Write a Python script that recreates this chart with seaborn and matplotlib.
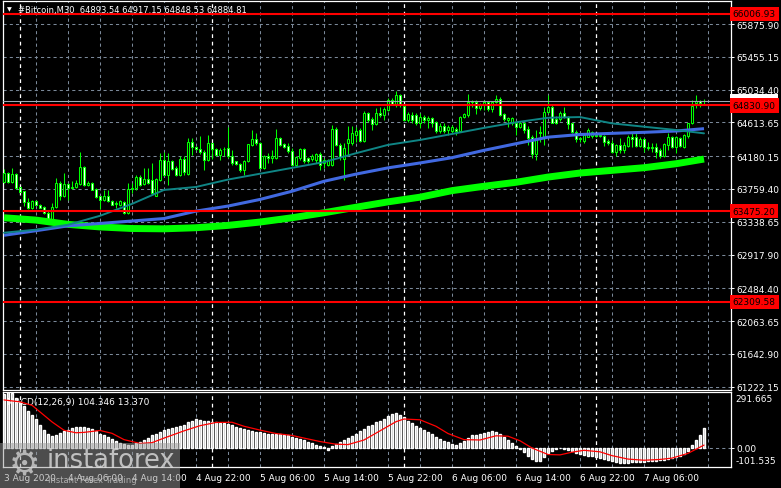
import numpy as np
import pandas as pd
import matplotlib
matplotlib.use('Agg')
import matplotlib.pyplot as plt
import matplotlib.transforms as mtransforms
from matplotlib.patches import Rectangle
import seaborn as sns

# ---- data (#Bitcoin M30, bar 0 = 4 Aug 00:00) ----
first_bar = -4
bar_open = [
    63853, 63963, 63853, 63951, 63781, 63730, 63594, 63517,
    63611, 63560, 63530, 63453, 63360, 63530, 63836, 63666,
    63823, 63768, 63785, 63827, 64040, 63815, 63836, 63759,
    63666, 63615, 63666, 63611, 63572, 63555, 63589, 63453,
    63759, 63768, 63908, 63823, 63887, 63870, 63674, 63878,
    64125, 63942, 64112, 64027, 63942, 64150, 63955, 64367,
    64303, 64274, 64240, 64125, 64346, 64269, 64197, 64269,
    64282, 64176, 64112, 64078, 63997, 64112, 64325, 64397,
    64354, 64027, 64184, 64155, 64155, 64418, 64333, 64312,
    64252, 64070, 64159, 64274, 64155, 64142, 64133, 64210,
    64091, 64065, 64070, 64524, 64325, 64142, 64354, 64354,
    64452, 64516, 64380, 64737, 64652, 64592, 64737, 64707,
    64771, 64898, 64847, 64962, 64822, 64643, 64707, 64707,
    64609, 64686, 64643, 64665, 64622, 64503, 64567, 64516,
    64507, 64524, 64507, 64677, 64707, 64877, 64877, 64792,
    64835, 64877, 64779, 64877, 64920, 64716, 64643, 64609,
    64609, 64558, 64609, 64524, 64431, 64210, 64490, 64410,
    64750, 64805, 64652, 64652, 64737, 64686, 64601, 64495,
    64397, 64380, 64431, 64440, 64452, 64440, 64444, 64380,
    64354, 64240, 64325, 64261, 64312, 64431, 64431, 64312,
    64397, 64303, 64282, 64295, 64261, 64176, 64325, 64422,
    64303, 64418, 64303, 64440, 64601, 64864, 64890, 64893.54,
]
bar_high = [
    64014, 63980, 64027, 63960, 63790, 63735, 63645, 63623,
    63620, 63565, 63538, 63475, 63581, 63900, 63857, 63963,
    63836, 63857, 63870, 64240, 64048, 63857, 63844, 63772,
    63674, 63742, 63742, 63623, 63602, 63615, 63602, 63836,
    63836, 63942, 63942, 64027, 64027, 64091, 63900, 64218,
    64240, 64218, 64133, 64048, 64180, 64184, 64410, 64410,
    64312, 64439, 64261, 64452, 64354, 64282, 64282, 64295,
    64558, 64261, 64121, 64091, 64133, 64337, 64516, 64473,
    64367, 64197, 64218, 64261, 64529, 64430, 64354, 64346,
    64282, 64176, 64282, 64282, 64167, 64210, 64227, 64240,
    64155, 64142, 64580, 64550, 64346, 64346, 64567, 64567,
    64558, 64537, 64762, 64750, 64686, 64792, 64813, 64805,
    64932, 64932, 65017, 64983, 64847, 64750, 64750, 64728,
    64728, 64707, 64694, 64686, 64635, 64601, 64601, 64580,
    64580, 64558, 64699, 64737, 64983, 64907, 64898, 64856,
    64898, 64890, 64890, 64962, 64941, 64728, 64686, 64686,
    64635, 64635, 64622, 64567, 64452, 64516, 64567, 64813,
    64962, 64847, 64699, 64762, 64813, 64694, 64609, 64516,
    64431, 64473, 64537, 64507, 64470, 64465, 64452, 64397,
    64388, 64337, 64410, 64367, 64452, 64473, 64482, 64431,
    64410, 64367, 64346, 64346, 64282, 64346, 64473, 64439,
    64439, 64431, 64465, 64609, 64898, 64962, 64898, 64917.15,
]
bar_low = [
    63836, 63840, 63836, 63765, 63720, 63538, 63496, 63496,
    63550, 63510, 63432, 63347, 63347, 63517, 63623, 63657,
    63623, 63759, 63772, 63815, 63793, 63793, 63742, 63645,
    63504, 63602, 63589, 63551, 63517, 63547, 63432, 63432,
    63708, 63751, 63802, 63815, 63827, 63687, 63666, 63857,
    63921, 63808, 64006, 63921, 63930, 63942, 63942, 64197,
    64261, 64210, 64006, 64112, 64142, 64176, 64133, 64176,
    64155, 64070, 64065, 63972, 63942, 64099, 64312, 64325,
    64027, 64014, 64091, 64091, 64142, 64312, 64282, 64218,
    64048, 64048, 64133, 64091, 64091, 64121, 64091, 64006,
    64027, 64048, 64048, 64312, 64133, 63878, 64197, 64325,
    64367, 64367, 64367, 64622, 64516, 64580, 64686, 64643,
    64762, 64835, 64813, 64813, 64635, 64622, 64609, 64580,
    64537, 64601, 64537, 64558, 64482, 64473, 64473, 64452,
    64473, 64452, 64490, 64665, 64686, 64813, 64720, 64771,
    64771, 64762, 64750, 64856, 64694, 64635, 64558, 64580,
    64452, 64537, 64482, 64325, 64155, 64133, 64367, 64325,
    64728, 64601, 64592, 64635, 64665, 64524, 64473, 64367,
    64367, 64346, 64431, 64410, 64420, 64420, 64312, 64325,
    64218, 64184, 64227, 64227, 64295, 64303, 64295, 64295,
    64240, 64261, 64240, 64155, 64155, 64167, 64261, 64282,
    64227, 64295, 64282, 64410, 64592, 64792, 64805, 64848.53,
]
bar_close = [
    63963, 63853, 63955, 63772, 63725, 63589, 63517, 63602,
    63560, 63517, 63445, 63360, 63530, 63836, 63674, 63823,
    63768, 63785, 63836, 64040, 63815, 63836, 63751, 63657,
    63623, 63666, 63611, 63560, 63581, 63602, 63453, 63759,
    63768, 63908, 63815, 63887, 63836, 63708, 63887, 64125,
    63942, 64112, 64014, 63942, 64150, 63972, 64367, 64303,
    64274, 64231, 64125, 64346, 64269, 64197, 64261, 64274,
    64176, 64091, 64078, 63997, 64112, 64333, 64397, 64346,
    64027, 64184, 64155, 64176, 64418, 64325, 64303, 64252,
    64070, 64167, 64274, 64121, 64112, 64176, 64210, 64070,
    64125, 64125, 64524, 64325, 64167, 64291, 64397, 64473,
    64503, 64380, 64737, 64643, 64592, 64737, 64707, 64779,
    64907, 64847, 64962, 64835, 64643, 64716, 64643, 64609,
    64686, 64643, 64665, 64609, 64503, 64567, 64507, 64558,
    64558, 64507, 64686, 64716, 64877, 64890, 64792, 64835,
    64877, 64779, 64877, 64920, 64707, 64652, 64665, 64665,
    64558, 64609, 64516, 64410, 64210, 64410, 64473, 64750,
    64813, 64609, 64609, 64737, 64686, 64592, 64495, 64397,
    64418, 64452, 64516, 64495, 64440, 64452, 64367, 64350,
    64240, 64325, 64261, 64325, 64431, 64400, 64312, 64397,
    64295, 64282, 64300, 64240, 64176, 64333, 64431, 64303,
    64422, 64312, 64452, 64601, 64822, 64890, 64864, 64884.81,
]

# moving averages, read every 8 bars
ma_bars = [-4, 4, 12, 20, 28, 36, 44, 52, 60, 68, 76, 84,
           92, 100, 108, 116, 124, 132, 140, 148, 156, 164, 171]
ma_teal = [63198, 63237, 63300, 63415, 63568, 63747, 63785, 63880, 63955, 64030, 64104, 64218,
           64325, 64388, 64465, 64543, 64615, 64673, 64682, 64601, 64558, 64516, 64473]
ma_blue = [63165, 63224, 63286, 63317, 63348, 63380, 63475, 63540, 63625, 63730, 63858, 63950,
           64030, 64093, 64161, 64255, 64340, 64424, 64458, 64473, 64486, 64503, 64533]
ma_green = [63390, 63360, 63305, 63272, 63252, 63248, 63262, 63292, 63335, 63390, 63454, 63525,
            63594, 63654, 63738, 63794, 63845, 63912, 63964, 63998, 64032, 64083, 64143]

# MACD(12,26,9) histogram per bar and signal line
macd_main = [
    280, 291.665, 284, 262, 240, 220, 190, 170,
    150, 120, 95, 72, 62, 68, 78, 88,
    95, 102, 108, 110, 108, 104, 96, 85,
    74, 64, 55, 46, 36, 26, 18, 12,
    14, 22, 32, 42, 52, 64, 74, 84,
    92, 98, 104, 108, 112, 120, 132, 142,
    148, 146, 142, 140, 136, 132, 130, 128,
    126, 118, 110, 104, 98, 92, 88, 84,
    82, 78, 74, 72, 74, 70, 66, 64,
    58, 52, 46, 40, 32, 24, 16, 10,
    2, -12, 6, 20, 30, 40, 52, 62,
    74, 86, 100, 112, 120, 132, 142, 152,
    164, 174, 180, 172, 160, 142, 130, 116,
    104, 94, 82, 72, 58, 46, 36, 28,
    20, 16, 24, 36, 52, 64, 68, 72,
    76, 82, 86, 84, 70, 56, 40, 22,
    8, -6, -24, -42, -58, -68, -72, -48,
    -28, -16, -8, -4, -6, -10, -20, -30,
    -36, -40, -42, -46, -50, -54, -58, -64,
    -72, -76, -80, -82, -78, -76, -74, -76,
    -74, -72, -70, -68, -66, -64, -60, -56,
    -50, -42, -34, -18, 12, 40, 66, 104.346,
]
sig_bars = [-4, 0, 3, 8, 11, 14, 16, 20, 23, 26, 30, 33, 36, 41, 45, 49, 53, 56, 60, 64,
            68, 71, 75, 79, 82, 86, 90, 94, 96, 100, 104, 107, 111, 115, 119, 122, 125,
            128, 132, 135, 138, 141, 145, 148, 152, 156, 160, 163, 167, 171]
sig_vals = [250, 240, 222, 135, 91, 78, 80, 90, 75, 42, 22, 26, 50, 88, 115, 132, 133, 112, 92, 74,
            64, 50, 32, 18, 16, 40, 88, 136, 150, 146, 112, 74, 42, 40, 62, 60, 36,
            -2, -36, -38, -24, -14, -22, -42, -60, -66, -62, -55, -30, 13.37]
macd_max, macd_min = 291.665, -101.535

price_ticks = [65875.90, 65455.15, 65034.40, 64613.65, 64180.15, 63759.40,
               63338.65, 62917.90, 62484.40, 62063.65, 61642.90, 61222.15]
level_prices = [66006.93, 64830.90, 63475.20, 62309.58]
bid_price = 64884.81

time_ticks = [-4, 12, 28, 44, 60, 76, 92, 108, 124, 140, 156]
time_labels = ['3 Aug 2020', '4 Aug 06:00', '4 Aug 14:00', '4 Aug 22:00', '5 Aug 06:00',
               '5 Aug 14:00', '5 Aug 22:00', '6 Aug 06:00', '6 Aug 14:00', '6 Aug 22:00',
               '7 Aug 06:00']
day_starts = [0, 48, 96, 144]

df = pd.DataFrame({'open': bar_open, 'high': bar_high, 'low': bar_low, 'close': bar_close,
                   'macd': macd_main})
df['bar'] = np.arange(first_bar, first_bar + len(df))

# ---- style ----
sns.set_theme(style='dark', rc={
    'figure.facecolor': 'black', 'axes.facecolor': 'black', 'axes.edgecolor': 'white',
    'axes.linewidth': 0.75, 'xtick.color': 'white', 'ytick.color': 'white',
    'text.color': 'white', 'axes.grid': False,
})
plt.rcParams['font.family'] = ['DejaVu Sans']

W, H = 781, 489
fig = plt.figure(figsize=(W / 100, H / 100), dpi=100)
ax = fig.add_axes([3 / W, (H - 391) / H, 728 / W, 389 / H])
ax2 = fig.add_axes([3 / W, (H - 468) / H, 728 / W, 75 / H])

grid_col = '#7a8899'
fs = 6.5
xlim = (-4.25, 177.75)

for a in (ax, ax2):
    a.set_xlim(*xlim)
    for g in range(4, 178, 8):
        a.axvline(g, color=grid_col, lw=0.75, ls=(0, (3, 3)), zorder=1)
    for d in day_starts:
        a.axvline(d, color='white', lw=0.9, ls=(0, (3, 3)), zorder=1)
    for s in a.spines.values():
        s.set_color('white')
        s.set_linewidth(0.9)

# ---- main price panel ----
ax.set_ylim(61180, 66171)
for p in price_ticks:
    ax.axhline(p, color=grid_col, lw=0.75, ls=(0, (3, 3)), zorder=1)

up = df['close'] >= df['open']
ax.vlines(df['bar'], df['low'], df['high'], color='#00ff00', lw=0.75, zorder=3)
body_h = (df['close'] - df['open']).abs().clip(lower=6)
ax.bar(df['bar'], body_h, bottom=df[['open', 'close']].min(axis=1), width=0.6,
       color=np.where(up, 'black', 'white'), edgecolor='#00ff00', linewidth=0.75, zorder=4)

sns.lineplot(x=ma_bars, y=ma_green, ax=ax, color='#00ff00', linewidth=5, zorder=5,
             solid_capstyle='butt')
sns.lineplot(x=ma_bars, y=ma_blue, ax=ax, color='#4169e1', linewidth=2.2, zorder=6,
             solid_capstyle='butt')
sns.lineplot(x=ma_bars, y=ma_teal, ax=ax, color='#0f8585', linewidth=1.4, zorder=6)

ax.axhline(bid_price, color='#a0a8b4', lw=0.75, zorder=6)
for lvl in level_prices:
    ax.axhline(lvl, color='#ff0000', lw=1.5, zorder=7)

ax.yaxis.tick_right()
ax.set_yticks(price_ticks)
ax.set_yticklabels([f'{p:.2f}' for p in price_ticks])
ax.tick_params(axis='y', length=2.5, width=0.7, pad=1.5, labelsize=fs, colors='white')
ax.set_xticks([])
ax.set_xlabel('')
ax.set_ylabel('')

tr = mtransforms.blended_transform_factory(ax.transAxes, ax.transData)
ax.text(1.0025, bid_price, f'{bid_price:.2f}', transform=tr, ha='left', va='center',
        fontsize=fs, color='black', clip_on=False, zorder=10,
        bbox=dict(boxstyle='square,pad=0.3', fc='white', ec='none'))
for lvl in level_prices:
    ax.text(1.0025, lvl, f'{lvl:.2f}', transform=tr, ha='left', va='center',
            fontsize=fs, color='black', clip_on=False, zorder=11,
            bbox=dict(boxstyle='square,pad=0.3', fc='#ff0000', ec='none'))

fig.text(7 / W, 1 - 10 / H, '\u25bc', fontsize=4.5, va='center', color='white')
fig.text(18 / W, 1 - 10 / H, '#Bitcoin,M30  64893.54 64917.15 64848.53 64884.81',
         fontsize=6.0, va='center', color='white')

# ---- MACD panel ----
ax2.set_ylim(macd_min, macd_max)
ax2.axhline(0, color=grid_col, lw=0.75, ls=(0, (3, 3)), zorder=1)
ax2.bar(df['bar'], df['macd'], width=0.7, color='#c0c0c0', zorder=3)
sns.lineplot(x=sig_bars, y=sig_vals, ax=ax2, color='#ff0000', linewidth=0.9, zorder=4)
ax2.yaxis.tick_right()
ax2.set_yticks([0])
ax2.set_yticklabels(['0.00'])
ax2.tick_params(axis='y', length=2.5, width=0.7, pad=1.5, labelsize=fs, colors='white')
ax2.text(1.006, 0.97, f'{macd_max:.3f}', transform=ax2.transAxes, ha='left', va='top',
         fontsize=fs, color='white', clip_on=False)
ax2.text(1.006, 0.02, f'{macd_min:.3f}', transform=ax2.transAxes, ha='left', va='bottom',
         fontsize=fs, color='white', clip_on=False)
ax2.text(0.006, 0.87, 'MACD(12,26,9) 104.346 13.370', transform=ax2.transAxes,
         ha='left', va='center', fontsize=fs, color='white')
ax2.set_xticks(time_ticks)
ax2.set_xticklabels(time_labels)
for lab in ax2.get_xticklabels():
    lab.set_horizontalalignment('left')
ax2.tick_params(axis='x', length=2, width=0.7, pad=2.5, labelsize=fs, colors='white')
ax2.set_xlabel('')
ax2.set_ylabel('')

# ---- watermark ----
fig.add_artist(Rectangle((0, 0), 180 / W, 45 / H, transform=fig.transFigure,
                         facecolor='#9a9a9a', alpha=0.5, edgecolor='none', zorder=20))
fig.text(24 / W, 1 - 466 / H, '\u2699', fontsize=25, ha='center', va='center',
         color='#d0d0d0', alpha=0.8, zorder=21)
fig.text(47 / W, 1 - 468 / H, 'instaforex', fontsize=18.5, ha='left', va='baseline',
         color='#dcdcdc', alpha=0.8, zorder=21)
fig.text(48 / W, 1 - 481 / H, 'Instant Forex Trading', fontsize=6.0, ha='left',
         va='center', color='#c8c8c8', alpha=0.8, zorder=21)

fig.savefig('out.png', dpi=100, facecolor='black')
